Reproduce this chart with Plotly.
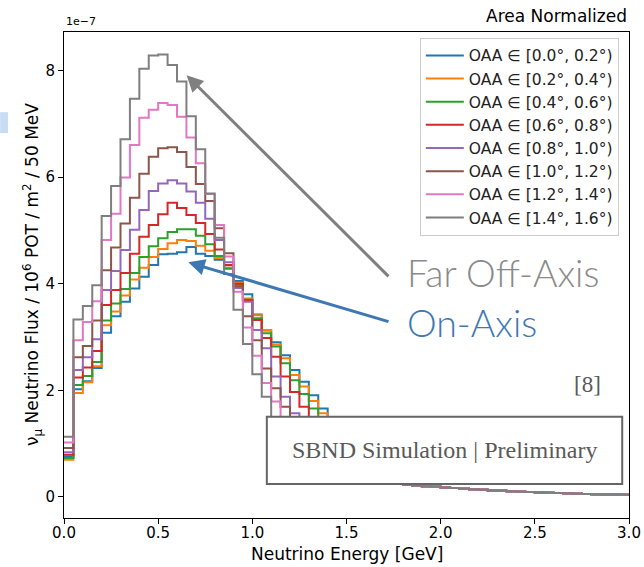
import numpy as np
import plotly.graph_objects as go

# ---------------- data (flux in units of 1e-7 per 50 MeV bin) ----------------
BIN_WIDTH_GEV = 0.05
N_BINS = 60          # 0 .. 3.0 GeV

labels = [
    "OAA ∈ [0.0°, 0.2°)",
    "OAA ∈ [0.2°, 0.4°)",
    "OAA ∈ [0.4°, 0.6°)",
    "OAA ∈ [0.6°, 0.8°)",
    "OAA ∈ [0.8°, 1.0°)",
    "OAA ∈ [1.0°, 1.2°)",
    "OAA ∈ [1.2°, 1.4°)",
    "OAA ∈ [1.4°, 1.6°)",
]
colors = ["#1f77b4", "#ff7f0e", "#2ca02c", "#d62728",
          "#9467bd", "#8c564b", "#e377c2", "#7f7f7f"]

# bins 0 .. 34 (0.00 - 1.75 GeV)
flux_oaa_00_02 = [0.76, 2.02, 2.17, 2.42, 3.08, 3.39, 3.66, 3.91, 4.13, 4.35,
                  4.55, 4.56, 4.59, 4.69, 4.56, 4.52, 4.45, 4.30, 4.05, 3.80,
                  3.42, 3.12, 2.90, 2.66, 2.38, 2.16, 1.91, 1.66, 1.45, 1.25,
                  1.06, 0.88, 0.70, 0.52, 0.36]
flux_oaa_02_04 = [0.70, 1.95, 2.15, 2.45, 3.22, 3.48, 3.78, 4.08, 4.30, 4.50,
                  4.65, 4.76, 4.82, 4.80, 4.71, 4.62, 4.48, 4.30, 4.02, 3.72,
                  3.41, 3.13, 2.86, 2.60, 2.29, 2.07, 1.80, 1.57, 1.40, 1.22,
                  1.04, 0.86, 0.68, 0.50, 0.35]
flux_oaa_04_06 = [0.73, 2.10, 2.27, 2.53, 3.31, 3.63, 3.90, 4.20, 4.50, 4.70,
                  4.85, 4.97, 5.02, 5.02, 4.90, 4.74, 4.52, 4.28, 3.98, 3.70,
                  3.35, 3.07, 2.82, 2.51, 2.19, 1.93, 1.66, 1.45, 1.30, 1.14,
                  0.98, 0.82, 0.66, 0.49, 0.34]
flux_oaa_06_08 = [0.79, 2.24, 2.43, 2.74, 3.60, 3.88, 4.20, 4.56, 4.88, 5.10,
                  5.30, 5.52, 5.42, 5.29, 5.14, 4.93, 4.64, 4.35, 4.00, 3.69,
                  3.32, 2.98, 2.63, 2.26, 1.97, 1.69, 1.45, 1.28, 1.12, 0.98,
                  0.86, 0.74, 0.60, 0.46, 0.33]
flux_oaa_08_10 = [0.84, 2.38, 2.62, 2.96, 3.88, 4.24, 4.63, 5.01, 5.38, 5.74,
                  5.88, 5.94, 5.88, 5.73, 5.52, 5.22, 4.82, 4.40, 3.92, 3.66,
                  3.13, 2.79, 2.26, 1.88, 1.57, 1.35, 1.18, 1.05, 0.95, 0.86,
                  0.77, 0.67, 0.55, 0.43, 0.32]
flux_oaa_10_12 = [0.92, 2.62, 2.83, 3.31, 4.25, 4.68, 5.13, 5.61, 6.06, 6.38,
                  6.54, 6.56, 6.47, 6.19, 5.87, 5.55, 5.04, 4.57, 3.95, 3.39,
                  2.94, 2.41, 2.04, 1.69, 1.42, 1.22, 1.06, 0.95, 0.86, 0.78,
                  0.70, 0.61, 0.51, 0.41, 0.31]
flux_oaa_12_14 = [1.02, 2.94, 3.28, 3.67, 4.82, 5.31, 5.99, 6.60, 7.11, 7.26,
                  7.39, 7.35, 7.13, 6.74, 6.26, 5.68, 5.10, 4.51, 3.85, 3.18,
                  2.65, 2.14, 1.79, 1.45, 1.22, 1.05, 0.93, 0.84, 0.77, 0.71,
                  0.64, 0.56, 0.48, 0.39, 0.30]
flux_oaa_14_16 = [1.13, 3.33, 3.58, 3.97, 5.27, 5.83, 6.71, 7.47, 8.03, 8.28,
                  8.30, 8.10, 7.79, 7.14, 6.52, 5.69, 4.86, 4.18, 3.51, 2.87,
                  2.30, 1.88, 1.50, 1.25, 1.06, 0.92, 0.82, 0.74, 0.67, 0.62,
                  0.57, 0.50, 0.43, 0.36, 0.29]
# bins 35 .. 59 (1.75 - 3.0 GeV): all angular slices overlap here
flux_tail_shared = [0.250, 0.230, 0.215, 0.200, 0.190, 0.180, 0.168, 0.156,
                    0.145, 0.134, 0.124, 0.115, 0.107, 0.100, 0.093, 0.086,
                    0.080, 0.074, 0.068, 0.063, 0.058, 0.053, 0.049, 0.045,
                    0.041]

series = [flux_oaa_00_02, flux_oaa_02_04, flux_oaa_04_06, flux_oaa_06_08,
          flux_oaa_08_10, flux_oaa_10_12, flux_oaa_12_14, flux_oaa_14_16]

x_ticks = [0.0, 0.5, 1.0, 1.5, 2.0, 2.5, 3.0]
y_ticks = [0, 2, 4, 6, 8]

# ---------------- figure ----------------
edges = np.round(np.arange(N_BINS + 1) * BIN_WIDTH_GEV, 4)

fig = go.Figure()
for label, color, head in zip(labels, colors, series):
    vals = list(head) + list(flux_tail_shared)
    yv = vals + [vals[-1]]
    fig.add_trace(go.Scatter(
        x=edges, y=yv, mode="lines", name=label, legendgroup=label,
        line=dict(shape="hv", color=color, width=2),
        hoverinfo="skip",
    ))

axis_common = dict(
    showline=True, linecolor="black", linewidth=1, mirror=True,
    ticks="outside", ticklen=5, tickwidth=1, tickcolor="black",
    showgrid=False, zeroline=False, automargin=False,
    tickfont=dict(family="DejaVu Sans", size=15, color="black"),
)

fig.update_layout(
    width=644, height=567, autosize=False,
    margin=dict(l=64, r=15, t=32, b=49, pad=0),
    paper_bgcolor="white", plot_bgcolor="white",
    font=dict(family="DejaVu Sans", size=15, color="black"),
    showlegend=True,
    legend=dict(
        x=0.982, y=0.988, xanchor="right", yanchor="top",
        bgcolor="white", bordercolor="#cccccc", borderwidth=1,
        font=dict(family="DejaVu Sans", size=15.5, color="#222222"),
        traceorder="grouped", tracegroupgap=0, itemwidth=38,
    ),
    xaxis=dict(range=[0, 3.0], tickvals=x_ticks, tickformat=".1f",
               ticklabelstandoff=-4, **axis_common),
    yaxis=dict(range=[-0.394, 8.72], tickvals=y_ticks, **axis_common),
)

annotations = [
    # axis titles
    dict(text="Neutrino Energy [GeV]", x=0.5, y=0, xref="paper", yref="paper",
         xanchor="center", yanchor="top", yshift=-24, showarrow=False,
         font=dict(family="DejaVu Sans", size=17, color="black")),
    dict(text="ν<sub>μ</sub> Neutrino Flux / 10<sup>6</sup> POT / m<sup>2</sup> / 50 MeV",
         x=0, y=0.5, xref="paper", yref="paper", xanchor="center",
         yanchor="middle", xshift=-32, textangle=-90, showarrow=False,
         font=dict(family="DejaVu Sans", size=17, color="black")),
    # offset text & title
    dict(text="1e−7", x=0, y=1, xref="paper", yref="paper", xanchor="left",
         yanchor="bottom", yshift=2, showarrow=False,
         font=dict(family="DejaVu Sans", size=11, color="black")),
    dict(text="Area Normalized", x=1, y=1, xref="paper", yref="paper",
         xanchor="right", yanchor="bottom", yshift=4, showarrow=False,
         font=dict(family="DejaVu Sans", size=17, color="black")),
    # arrows
    dict(x=0.651, y=7.91, ax=1.731, ay=4.11, xref="x", yref="y",
         axref="x", ayref="y", text="", showarrow=True, arrowhead=2,
         arrowsize=1.1, arrowwidth=3, arrowcolor="#808080", standoff=0),
    dict(x=0.660, y=4.40, ax=1.731, ay=3.28, xref="x", yref="y",
         axref="x", ayref="y", text="", showarrow=True, arrowhead=2,
         arrowsize=1.1, arrowwidth=3, arrowcolor="#3d78b5", standoff=0),
    # labels
    dict(text="Far Off-Axis", x=0.603, y=0.506, xref="paper", yref="paper",
         xanchor="left", yanchor="middle", showarrow=False,
         font=dict(family="Lato", size=37.5, color="#8a8a8a", weight=300)),
    dict(text="On-Axis", x=0.603, y=0.403, xref="paper", yref="paper",
         xanchor="left", yanchor="middle", showarrow=False,
         font=dict(family="Lato", size=37.5, color="#3d78b5", weight=300)),
    dict(text="[8]", x=0.9265, y=0.2757, xref="paper", yref="paper",
         xanchor="center", yanchor="middle", showarrow=False,
         font=dict(family="Liberation Serif", size=23, color="#595959")),
    dict(text="SBND Simulation | Preliminary", x=0.6735, y=0.14,
         xref="paper", yref="paper", xanchor="center", yanchor="middle",
         showarrow=False,
         font=dict(family="Liberation Serif", size=24, color="#595959")),
]
fig.update_layout(annotations=annotations)

fig.update_layout(shapes=[
    dict(type="rect", xref="paper", yref="paper",
         x0=0.359, x1=0.988, y0=0.070, y1=0.2084,
         fillcolor="white", line=dict(color="#666666", width=2),
         layer="above"),
    dict(type="rect", xref="paper", yref="paper",
         x0=-0.113, x1=-0.099, y0=0.792, y1=0.835,
         fillcolor="#c9dcf3", line=dict(width=0), layer="above"),
])

fig.write_html(
    "out.html",
    config={"displayModeBar": False, "responsive": False},
    post_script=("document.body.style.margin='0';"
                 "document.body.style.padding='0';"
                 "document.documentElement.style.overflow='hidden';"),
)
